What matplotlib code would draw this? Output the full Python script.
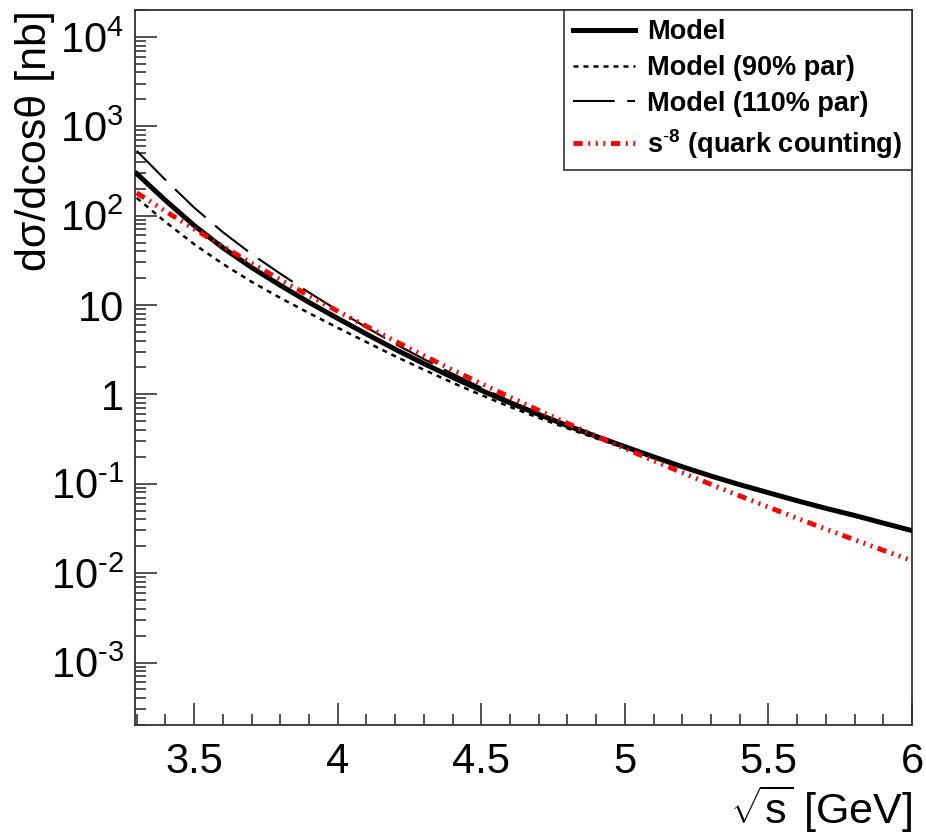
import numpy as np
import matplotlib
matplotlib.use("Agg")
import matplotlib.pyplot as plt
from matplotlib.ticker import FixedLocator, FixedFormatter, LogLocator, MultipleLocator, NullFormatter

plt.rcParams['font.family'] = ['Liberation Sans', 'DejaVu Sans']
plt.rcParams['mathtext.fontset'] = 'custom'
plt.rcParams['mathtext.rm'] = 'Liberation Sans'
plt.rcParams['mathtext.it'] = 'Liberation Sans'
plt.rcParams['mathtext.bf'] = 'Liberation Sans:bold'

# sqrt(s) [GeV]
sqrt_s = [3.3, 3.4, 3.5, 3.6, 3.7, 3.8, 3.9, 4.0, 4.1, 4.2, 4.3, 4.4, 4.5, 4.6,
          4.7, 4.8, 4.9, 5.0, 5.1, 5.2, 5.3, 5.4, 5.5, 5.6, 5.7, 5.8, 5.9, 6.0]

# dsigma/dcos(theta) [nb]
model = [295, 148, 77.6, 43.7, 26.3, 16.6, 10.7, 7.08, 4.73, 3.20, 2.21, 1.55,
         1.11, 0.804, 0.596, 0.447, 0.339, 0.260, 0.200, 0.155, 0.122, 0.0977,
         0.0794, 0.0646, 0.0531, 0.0442, 0.0363, 0.0299]
model_90 = [158, 85.1, 47.9, 28.8, 18.2, 12.0, 8.13, 5.56, 3.85, 2.67, 1.89, 1.35,
            0.984, 0.724, 0.546, 0.417, 0.322, 0.251, 0.195, 0.153, 0.121, 0.0975,
            0.0792, 0.0645, 0.0530, 0.0441, 0.0362, 0.0299]
model_110 = [531, 251, 123, 65.3, 37.2, 22.4, 13.8, 8.71, 5.62, 3.67, 2.48, 1.70,
             1.19, 0.841, 0.617, 0.457, 0.343, 0.260, 0.199, 0.154, 0.121, 0.0970,
             0.0788, 0.0641, 0.0527, 0.0438, 0.0360, 0.0297]
quark_count = [180, 112, 70.8, 45.3, 29.3, 19.2, 12.7, 8.53, 5.77, 3.94, 2.71, 1.88,
               1.32, 0.931, 0.662, 0.474, 0.342, 0.248, 0.181, 0.133, 0.0984, 0.0732,
               0.0548, 0.0411, 0.0311, 0.0236, 0.0180, 0.0138]

ytick_vals = [1e-3, 1e-2, 1e-1, 1, 10, 1e2, 1e3, 1e4]
ytick_labels = [r'$10^{\text{-}3}$', r'$10^{\text{-}2}$', r'$10^{\text{-}1}$', '1', '10',
                r'$10^{2}$', r'$10^{3}$', r'$10^{4}$']

fig = plt.figure(figsize=(9.26, 8.39), dpi=100)
ax = fig.add_axes([0.1458, 0.1359, 0.8391, 0.8522])

ax.plot(sqrt_s, model, color='black', lw=3.6, label='Model', zorder=3)
ax.plot(sqrt_s, model_90, color='black', lw=1.8, dashes=(2.0, 2.0),
        label='Model (90% par)', zorder=2)
ax.plot(sqrt_s, model_110, color='black', lw=1.5, dashes=(20, 6),
        label='Model (110% par)', zorder=2)
ax.plot(sqrt_s, quark_count, color='red', lw=3.5,
        dashes=(1.9, 1.15, 0.4, 1.15, 0.4, 1.15, 0.4, 1.15),
        solid_capstyle='butt', dash_capstyle='butt',
        label=r's$^{\mathbf{\text{-}8}}$ (quark counting)', zorder=4)

ax.set_yscale('log')
ax.set_xlim(3.294, 6.0)
ax.set_ylim(2e-4, 2e4)

ax.xaxis.set_minor_locator(MultipleLocator(0.1))
ax.set_xticks([3.5, 4.0, 4.5, 5.0, 5.5, 6.0])
ax.set_xticklabels(['3.5', '4', '4.5', '5', '5.5', '6'])
ax.yaxis.set_major_locator(FixedLocator(ytick_vals))
ax.yaxis.set_major_formatter(FixedFormatter(ytick_labels))
ax.yaxis.set_minor_locator(LogLocator(base=10, subs=np.arange(2, 10), numticks=20))
ax.yaxis.set_minor_formatter(NullFormatter())

ax.tick_params(which='both', direction='in', top=False, right=False,
               width=1.1, colors='#222222', labelcolor='black')
ax.tick_params(which='major', length=16, labelsize=30)
ax.tick_params(which='minor', length=8)
ax.tick_params(axis='x', which='major', pad=12)
ax.tick_params(axis='y', which='major', pad=8)
for sp in ax.spines.values():
    sp.set_linewidth(1.3)
    sp.set_color('#333333')

fig.text(0.985, 0.005, r'$\sqrt{s}$ [GeV]', ha='right', va='bottom', fontsize=31)
fig.text(0.038, 0.988, 'dσ/dcosθ [nb]', rotation=90, ha='center', va='top', fontsize=31)

leg = ax.legend(loc='upper right', bbox_to_anchor=(1.0, 1.0), borderaxespad=0,
                fancybox=False, framealpha=1, edgecolor='#333333',
                prop={'weight': 'bold', 'size': 19.5}, handlelength=2.3,
                handletextpad=0.45, labelspacing=0.36, borderpad=0.35)
leg.get_frame().set_linewidth(1.2)

fig.savefig('out.png', dpi=100)
